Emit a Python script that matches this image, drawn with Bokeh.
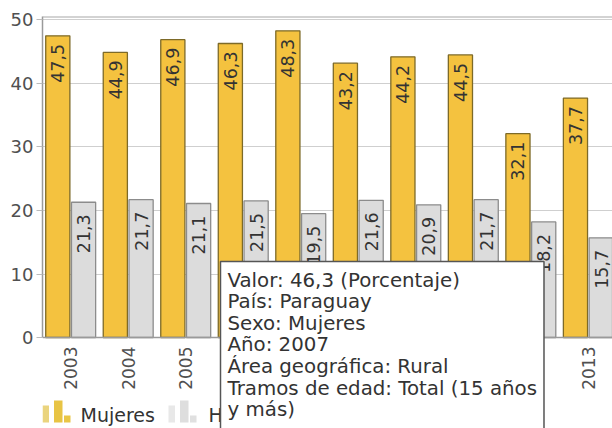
from math import pi
from bokeh.plotting import figure
from bokeh.models import ColumnDataSource, Range1d, FixedTicker, Label, Span
from bokeh.transform import dodge
from bokeh.core.properties import value
from bokeh.embed import file_html
from bokeh.resources import INLINE

# ---- data ----
years = ["2003", "2004", "2005", "2007", "2008", "2009", "2010", "2011", "2012", "2013"]
mujeres = [47.5, 44.9, 46.9, 46.3, 48.3, 43.2, 44.2, 44.5, 32.1, 37.7]
hombres = [21.3, 21.7, 21.1, 21.5, 19.5, 21.6, 20.9, 21.7, 18.2, 15.7]
y_ticks = [0, 10, 20, 30, 40, 50]
series_names = ["Mujeres", "Hombres"]
tooltip_lines = [
    "Valor: 46,3 (Porcentaje)",
    "País: Paraguay",
    "Sexo: Mujeres",
    "Año: 2007",
    "Área geográfica: Rural",
    "Tramos de edad: Total (15 años",
    "y más)",
]

FONT = "DejaVu Sans"
M_FILL, M_LINE = "#F4C23F", "#7d6a28"
H_FILL, H_LINE = "#DCDCDC", "#8c8c8c"
AX = "#9a9a9a"

# ---- layout constants (page pixels) ----
FRAME_L, FRAME_T, FRAME_W, FRAME_H = 42, 16, 570, 412
XS, XE = -0.49, 9.42
YS, YE = -14.33, 50.55
XSCALE = FRAME_W / (XE - XS)
YSCALE = FRAME_H / (YE - YS)

def px_x(px):
    return XS + (px - FRAME_L) / XSCALE

def px_y(py):
    return YS + (FRAME_T + FRAME_H - py) / YSCALE

def fmt(v):
    return ("%.1f" % v).replace(".", ",")

idx = list(range(len(years)))
src = ColumnDataSource(dict(
    x=idx, year=years, base=[0] * len(years), mujeres=mujeres, hombres=hombres,
    m_lab=[fmt(v) for v in mujeres], h_lab=[fmt(v) for v in hombres],
))

# frame covers the plot area plus the label / legend strip below it
p = figure(frame_width=FRAME_W, frame_height=FRAME_H,
           min_border_left=FRAME_L, min_border_right=0, min_border_top=FRAME_T,
           min_border_bottom=0,
           x_range=Range1d(XS, XE), y_range=Range1d(YS, YE),
           x_axis_location=None,
           output_backend="svg", toolbar_location=None)
p.background_fill_color = "white"
p.border_fill_color = "white"
p.outline_line_color = None

OFF = 0.224
W = 0.42
p.vbar(x=dodge("x", -OFF), top="mujeres", width=W, source=src,
       fill_color=M_FILL, line_color=M_LINE, line_width=1.3)
p.vbar(x=dodge("x", OFF), top="hombres", width=W, source=src,
       fill_color=H_FILL, line_color=H_LINE, line_width=1.3)

p.text(x=dodge("x", -OFF), y="mujeres", text="m_lab", source=src, angle=pi / 2,
       text_align="right", text_baseline="middle", y_offset=8,
       text_font=value(FONT), text_font_size="17.5px", text_color="#333333")
p.text(x=dodge("x", OFF), y="hombres", text="h_lab", source=src, angle=pi / 2,
       text_align="right", text_baseline="middle", y_offset=12,
       text_font=value(FONT), text_font_size="17.5px", text_color="#333333")

# category (year) labels under the baseline
p.text(x="x", y="base", text="year", source=src, angle=pi / 2,
       text_align="right", text_baseline="middle", y_offset=9,
       text_font=value(FONT), text_font_size="17px", text_color="#505050")

# baseline and top border
p.add_layout(Span(location=0, dimension="width", line_color=AX, line_width=1.5))
p.add_layout(Span(location=50.5, dimension="width", line_color="#a8a8a8", line_width=1.5))

# y axis
p.xgrid.grid_line_color = None
p.ygrid.grid_line_color = "#cfcfcf"
p.ygrid.grid_line_width = 1.2
p.ygrid.ticker = FixedTicker(ticks=y_ticks[1:])
p.yaxis.ticker = FixedTicker(ticks=y_ticks)
p.yaxis.bounds = (0, YE)
p.yaxis.axis_line_color = AX
p.yaxis.axis_line_width = 1.5
p.yaxis.minor_tick_line_color = None
p.yaxis.major_label_text_font = FONT
p.yaxis.major_label_text_color = "#505050"
p.yaxis.major_label_text_font_size = "18px"
p.yaxis.major_tick_line_color = "#bbbbbb"
p.yaxis.major_tick_out = 6
p.yaxis.major_tick_in = 0
p.yaxis.major_label_standoff = 3

# legend (bar-chart style icons + labels) in the strip below the year labels
icon_x0 = [42, 168]
label_x0 = [80, 208]
icon_bars = [(0, 6.5, 405), (11.5, 20, 400), (21.5, 28, 415)]  # (left, right, top) offsets
icon_colors = [["#ead47e", "#e8c444", "#e9c646"], ["#e8e8e8", "#dedede", "#e0e0e0"]]
ICON_BOTTOM = 422
ql, qr, qt, qb, qc = [], [], [], [], []
for k in range(len(series_names)):
    for (l, r, t), c in zip(icon_bars, icon_colors[k]):
        ql.append(px_x(icon_x0[k] + l))
        qr.append(px_x(icon_x0[k] + r))
        qt.append(px_y(t))
        qb.append(px_y(ICON_BOTTOM))
        qc.append(c)
p.quad(left=ql, right=qr, top=qt, bottom=qb, fill_color=qc, line_color=None)
p.text(x=[px_x(v) for v in label_x0], y=[px_y(414)] * 2, text=series_names,
       text_align="left", text_baseline="middle",
       text_font=value(FONT), text_font_size="19px", text_color="#333333")

# static tooltip box (drawn on top of everything; runs off the bottom edge)
tip = Label(x=px_x(220), y=px_y(261), x_units="data", y_units="data",
            text="\n".join(tooltip_lines + [" "]), text_align="left", text_baseline="top",
            text_font=FONT, text_font_size="19.8px", text_line_height=0.94,
            text_color="#333333", padding=7,
            background_fill_color="white", border_line_color="#555555",
            border_line_width=1.5, level="overlay")
p.add_layout(tip)

open("out.html", "w").write(file_html(p, INLINE))
